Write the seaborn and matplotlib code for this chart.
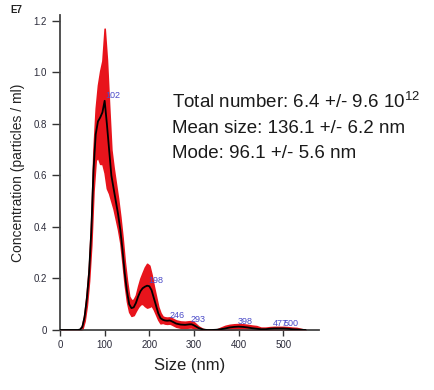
import numpy as np
import pandas as pd
import matplotlib
matplotlib.use("Agg")
import matplotlib.pyplot as plt
import seaborn as sns

# ---- data ----
size_nm = [0, 10, 20, 30, 40, 45, 50, 55, 60, 65, 70, 75, 80, 85, 90, 95, 100,
           105, 110, 115, 120, 125, 130, 135, 140, 145, 150, 155, 160, 165, 170,
           175, 180, 185, 190, 195, 200, 205, 210, 215, 220, 225, 230, 235, 240,
           246, 250, 260, 270, 280, 290, 295, 300, 310, 320, 330, 340, 350, 360,
           370, 380, 390, 400, 410, 420, 430, 440, 450, 460, 470, 480, 490, 500,
           510, 520, 530, 540, 550]
mean_conc = [0, 0, 0, 0, 0, 0.002, 0.012, 0.05, 0.12, 0.22, 0.38, 0.62, 0.76,
             0.81, 0.825, 0.845, 0.89, 0.80, 0.70, 0.60, 0.55, 0.50, 0.45, 0.39,
             0.31, 0.22, 0.15, 0.10, 0.085, 0.088, 0.105, 0.13, 0.15, 0.162,
             0.168, 0.172, 0.170, 0.155, 0.125, 0.095, 0.065, 0.046, 0.040,
             0.037, 0.036, 0.037, 0.034, 0.025, 0.021, 0.020, 0.022, 0.022,
             0.018, 0.008, 0.002, 0, 0, 0.001, 0.003, 0.006, 0.010, 0.012,
             0.013, 0.012, 0.010, 0.007, 0.005, 0.003, 0.003, 0.005, 0.006,
             0.006, 0.006, 0.005, 0.003, 0.002, 0.001, 0]
err_conc = [0, 0, 0, 0, 0, 0.002, 0.008, 0.015, 0.025, 0.03, 0.05, 0.08, 0.10,
            0.14, 0.18, 0.20, 0.28, 0.25, 0.17, 0.10, 0.08, 0.07, 0.06, 0.05,
            0.05, 0.045, 0.04, 0.03, 0.03, 0.03, 0.03, 0.04, 0.05, 0.06,
            0.075, 0.085, 0.08, 0.06, 0.045, 0.035, 0.025, 0.02, 0.012, 0.012,
            0.012, 0.012, 0.012, 0.012, 0.012, 0.012, 0.012, 0.012, 0.012,
            0.006, 0.002, 0, 0, 0, 0.006, 0.01, 0.01, 0.01, 0.01, 0.01, 0.01,
            0.01, 0.01, 0.006, 0.006, 0.006, 0.006, 0.006, 0.006, 0.006, 0.006,
            0.006, 0.003, 0]

peak_x = [102, 198, 246, 293, 398, 477, 500]
peak_y = [0.89, 0.172, 0.037, 0.022, 0.013, 0.006, 0.006]
peak_labels = ["102", "198", "246", "293", "398", "477", "500"]

x_ticks = [0, 100, 200, 300, 400, 500]
y_ticks = [0, 0.2, 0.4, 0.6, 0.8, 1.0, 1.2]
y_tick_labels = ["0", "0.2", "0.4", "0.6", "0.8", "1.0", "1.2"]

info_lines = ["Total number: 6.4 +/- 9.6 $10^{12}$",
              "Mean size: 136.1 +/- 6.2 nm",
              "Mode: 96.1 +/- 5.6 nm"]

# ---- style ----
sns.set_style("ticks")
plt.rcParams["font.family"] = ["Liberation Sans", "DejaVu Sans"]
plt.rcParams["mathtext.fontset"] = "custom"
plt.rcParams["mathtext.rm"] = "Liberation Sans"
plt.rcParams["mathtext.it"] = "Liberation Sans:italic"
plt.rcParams["mathtext.default"] = "regular"

df = pd.DataFrame({"size": size_nm, "conc": mean_conc, "err": err_conc})

fig = plt.figure(figsize=(4.35, 3.9), dpi=100)
ax = fig.add_axes([60 / 435, 60 / 390, (319 - 60) / 435, (330 - 15) / 390])

lower = np.clip(df["conc"] - df["err"], 0, None)
upper = df["conc"] + df["err"]
ax.fill_between(df["size"], lower, upper, color="#e8141c", linewidth=1.2,
                edgecolor="#e8141c", zorder=2)
sns.lineplot(data=df, x="size", y="conc", color="black", linewidth=1.3,
             ax=ax, zorder=3)

for px, py, lab in zip(peak_x, peak_y, peak_labels):
    ax.annotate(lab, (px, py), xytext=(0, 3.6), textcoords="offset points",
                ha="left", va="center", fontsize=6.5, color="#4a4ac8", zorder=4)

ax.set_xlim(0, 580)
ax.set_ylim(0, 1.223)
ax.set_xticks(x_ticks)
ax.set_xticklabels([str(t) for t in x_ticks])
ax.set_yticks(y_ticks)
ax.set_yticklabels(y_tick_labels)
ax.tick_params(axis="x", length=4, width=1, color="#333333", labelsize=7,
               labelcolor="#2b2b3a", pad=3)
ax.tick_params(axis="y", length=6, width=1, color="#333333", labelsize=7,
               labelcolor="#2b2b3a", pad=3.5)
for s in ["top", "right"]:
    ax.spines[s].set_visible(False)
for s in ["left", "bottom"]:
    ax.spines[s].set_color("#444444")
    ax.spines[s].set_linewidth(1.3)

ax.set_xlabel("Size (nm)", fontsize=12, color="#222222", labelpad=6)
ax.set_ylabel("Concentration (particles / ml)", fontsize=10, color="#222222",
              labelpad=6)

fig.text(16 / 435, 1 - 10 / 390, "E7", fontsize=7, color="#222222",
         ha="center", va="center", fontweight="bold")

for i, line in enumerate(info_lines):
    fig.text(172.5 / 435, 1 - (108 + 25 * i) / 390, line, fontsize=13.5,
             color="#1a1a1a", ha="left", va="baseline")

fig.savefig("out.png", dpi=100)
